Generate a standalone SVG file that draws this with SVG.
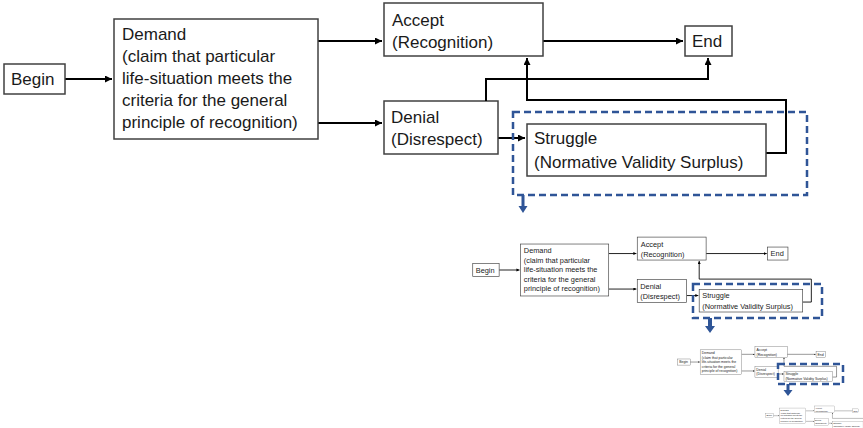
<svg xmlns="http://www.w3.org/2000/svg" xmlns:xlink="http://www.w3.org/1999/xlink" width="863" height="428" viewBox="0 0 863 428">
<style>
  .box { fill: #ffffff; stroke: #404040; stroke-width: 1.5; }
  .lbl { font-family: "Liberation Sans", Arial, sans-serif; font-size: 17px; fill: #1a1a1a; }
  .conn { fill: none; stroke: #000000; stroke-width: 2; }
  .dash { fill: none; stroke: #2F5597; stroke-width: 2.5; stroke-dasharray: 7 4; }
  .blue { fill: #2F5597; }
</style>
<defs>
  <marker id="ah" markerUnits="userSpaceOnUse" markerWidth="8" markerHeight="8" refX="7" refY="3.5" orient="auto">
    <path d="M0,0 L7,3.5 L0,7 z" fill="#000000"/>
  </marker>
</defs>
<rect width="863" height="428" fill="#ffffff"/>

<g id="core">
  <g id="connectors">
    <path class="conn" d="M65,79 H112" marker-end="url(#ah)"/>
    <path class="conn" d="M318,41 H382" marker-end="url(#ah)"/>
    <path class="conn" d="M318,123 H382" marker-end="url(#ah)"/>
    <path class="conn" d="M543,41 H683" marker-end="url(#ah)"/>
    <path class="conn" d="M498,138 H525" marker-end="url(#ah)"/>
    <path class="conn" d="M766,153 H786 V100 H527 V58" marker-end="url(#ah)"/>
  </g>
  <g id="node-begin">
    <rect class="box" x="4" y="64" width="61" height="30"/>
    <text class="lbl" x="11" y="85">Begin</text>
  </g>
  <g id="node-demand">
    <rect class="box" x="114" y="19" width="204" height="120"/>
    <text class="lbl" x="122" y="40">Demand</text>
    <text class="lbl" x="122" y="62">(claim that particular</text>
    <text class="lbl" x="122" y="84">life-situation meets the</text>
    <text class="lbl" x="122" y="106">criteria for the general</text>
    <text class="lbl" x="122" y="128">principle of recognition)</text>
  </g>
  <g id="node-accept">
    <rect class="box" x="384" y="3" width="159" height="53"/>
    <text class="lbl" x="392" y="26">Accept</text>
    <text class="lbl" x="392" y="48">(Recognition)</text>
  </g>
  <g id="node-denial">
    <rect class="box" x="384" y="101" width="114" height="53"/>
    <text class="lbl" x="391" y="123">Denial</text>
    <text class="lbl" x="391" y="145">(Disrespect)</text>
  </g>
  <g id="node-end">
    <rect class="box" x="685" y="26" width="47" height="30"/>
    <text class="lbl" x="692" y="47">End</text>
  </g>
  <g id="node-struggle">
    <rect class="box" x="527" y="124" width="239" height="52"/>
    <text class="lbl" x="534" y="144">Struggle</text>
    <text class="lbl" x="534" y="168">(Normative Validity Surplus)</text>
  </g>
</g>

<g id="connectors-top">
  <path class="conn" d="M486,101 V79 H708 V58" marker-end="url(#ah)"/>
</g>

<g id="level-2">
  <use xlink:href="#core" href="#core" transform="translate(471,235.8) scale(0.433)"/>
</g>
<g id="level-3">
  <use xlink:href="#core" href="#core" transform="translate(677,346) scale(0.203)"/>
</g>
<g id="level-4">
  <use xlink:href="#core" href="#core" transform="translate(765,405.6) scale(0.128)"/>
</g>

<g id="highlights">
  <rect class="dash" x="513" y="112" width="294" height="83"/>
  <path class="blue" d="M521.5,195 H524.5 V206 H527.5 L523,213 L518.5,206 H521.5 z"/>
  <rect class="dash" x="693" y="284" width="129" height="34"/>
  <path class="blue" d="M708,318 H712 V326 H715 L710,333 L705,326 H708 z"/>
  <rect class="dash" x="778" y="364" width="65" height="20"/>
  <path class="blue" d="M786.5,384 H789.5 V390 H792.5 L788,396 L783.5,390 H786.5 z"/>
</g>
</svg>
